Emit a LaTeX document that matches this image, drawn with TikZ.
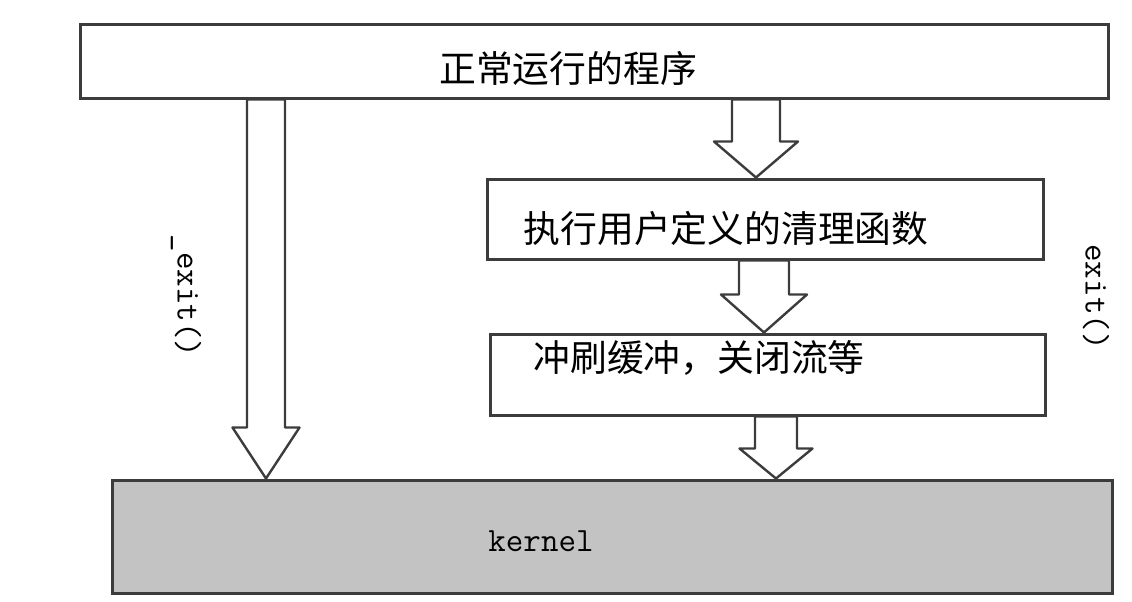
\documentclass[tikz,border=0pt]{standalone}
\usepackage{fontspec}
\newfontfamily\cjk{Noto Sans CJK SC}
\usepackage{tikz}
\usetikzlibrary{calc}
\definecolor{edgegray}{RGB}{60,60,60}
\definecolor{kernelgray}{RGB}{195,195,195}
\tikzset{
    stagebox/.style={rectangle, draw=edgegray, line width=1.5pt, fill=white, inner sep=0pt},
    kernelbox/.style={stagebox, fill=kernelgray},
    cjklabel/.style={font=\cjk\fontsize{18.4}{20}\selectfont, text=black, inner sep=0pt},
    codelabel/.style={font=\ttfamily\fontsize{17}{20}\selectfont, text=black, inner sep=0pt},
    fatarrow/.style={draw=edgegray, line width=1.2pt, fill=white, line join=round},
}
% hollow block arrow: start, tip, half shaft, half head, head length
\newcommand{\blockarrow}[5]{%
    \draw[fatarrow] ($(#1)+(-#3,0)$) -- ($(#2)+(-#3,-#5)$) -- ($(#2)+(-#4,-#5)$) -- (#2)
        -- ($(#2)+(#4,-#5)$) -- ($(#2)+(#3,-#5)$) -- ($(#1)+(#3,0)$) -- cycle;}

\begin{document}
\begin{tikzpicture}[x=0.5pt, y=-0.5pt]
    \useasboundingbox (0,0) rectangle (1132,601);

    % Boxes
    \node[stagebox, minimum width=514pt, minimum height=37pt] (prog) at (594,61) {};
    \node[stagebox, minimum width=278pt, minimum height=40pt] (clean) at (765,219) {};
    \node[stagebox, minimum width=277.5pt, minimum height=40.5pt] (flush) at (767.5,374.5) {};
    \node[kernelbox, minimum width=500pt, minimum height=56.5pt] (kernel) at (612,536.5) {};

    % Texts
    \node[cjklabel] (progtxt) at (568,68) {正常运行的程序};
    \node[cjklabel] (cleantxt) at (726,228) {执行用户定义的清理函数};
    \node[cjklabel] (flushtxt) at (699,358) {冲刷缓冲，关闭流等};
    \node[codelabel] (kerneltxt) at (541,541) {kernel};
    \node[codelabel, rotate=-90] (fastexit) at (186,296) {\_exit()};
    \node[codelabel, rotate=-90] (normexit) at (1096,297) {exit()};

    % Arrows
    \coordinate (fastx) at (266,0);
    \coordinate (cleanx) at (756,0);
    \coordinate (flushx) at (764,0);
    \coordinate (kernelx) at (776,0);
    \blockarrow{prog.south -| fastx}{kernel.north -| fastx}{19}{33.5}{51}
    \blockarrow{prog.south -| cleanx}{clean.north -| cleanx}{24}{42}{36}
    \blockarrow{clean.south -| flushx}{flush.north -| flushx}{25}{43}{38}
    \blockarrow{flush.south -| kernelx}{kernel.north -| kernelx}{21}{36.5}{30}
\end{tikzpicture}
\end{document}
